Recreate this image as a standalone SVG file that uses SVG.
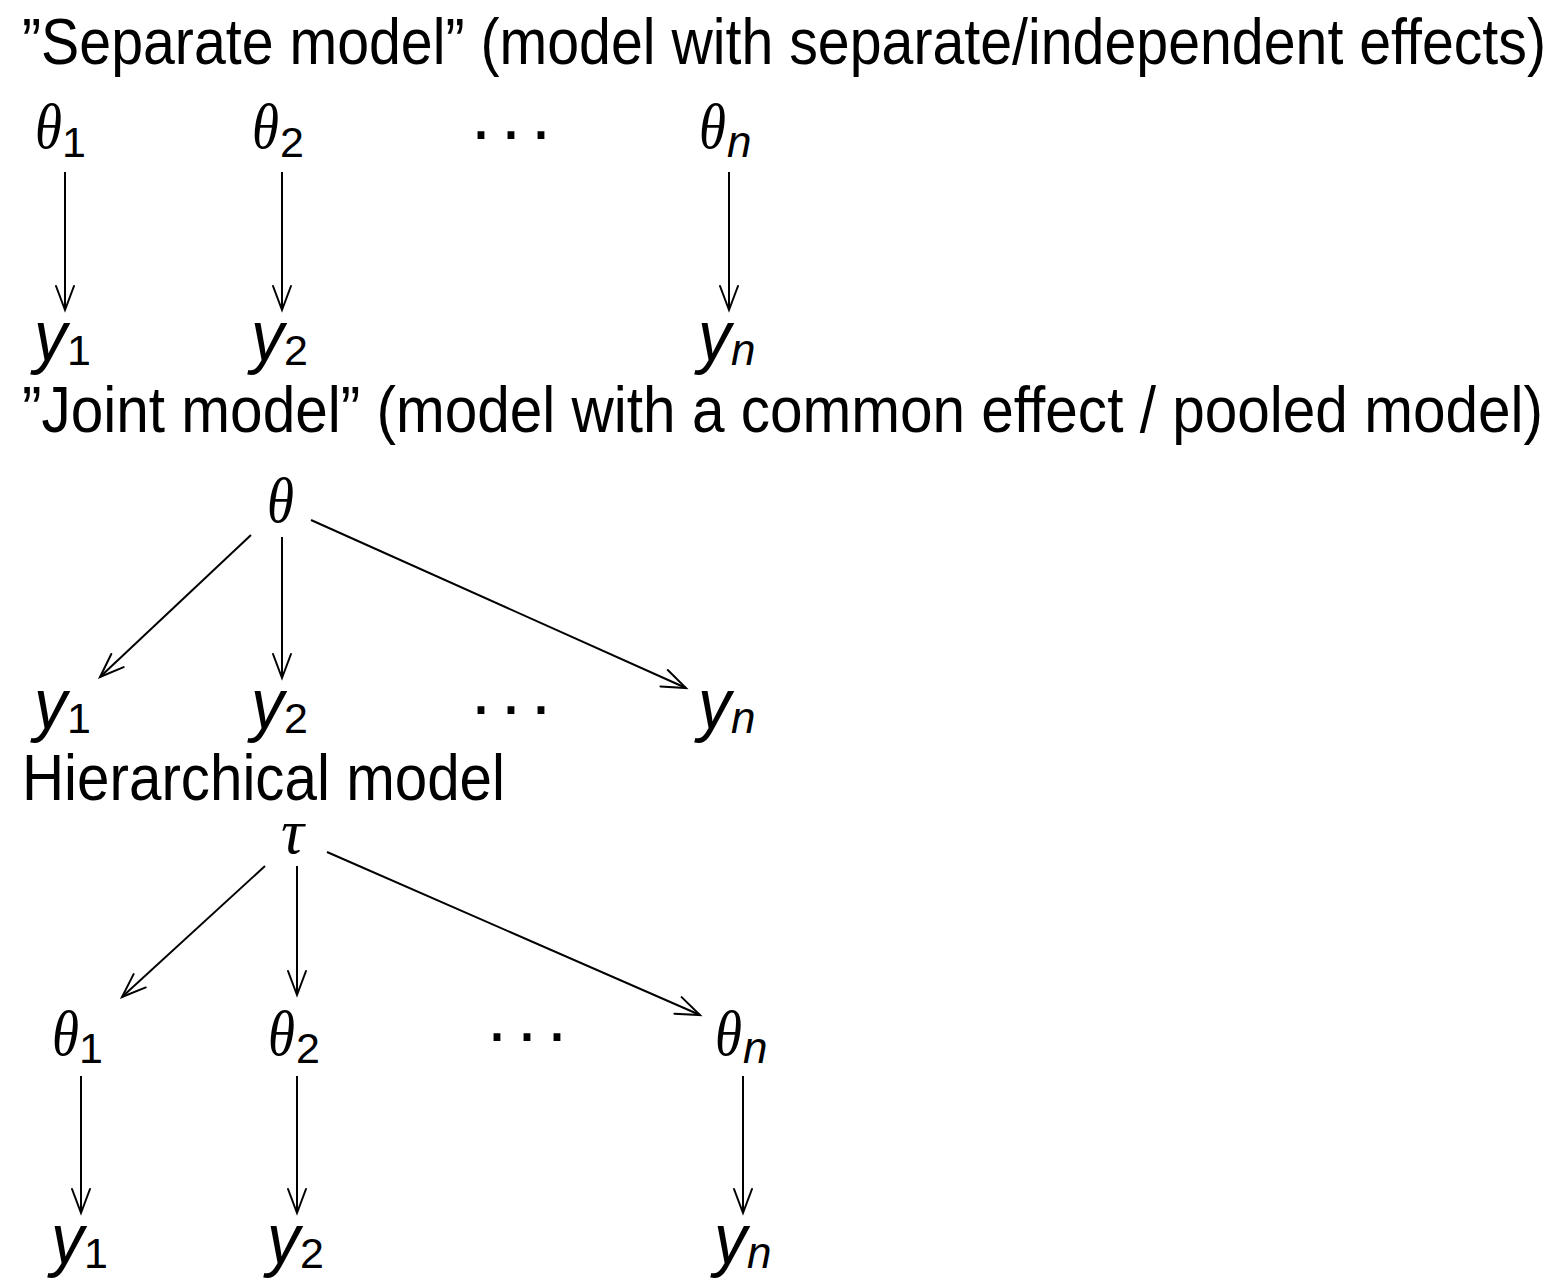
<svg xmlns="http://www.w3.org/2000/svg" width="1566" height="1288" viewBox="0 0 1566 1288">
<defs>
<marker id="arr" markerUnits="userSpaceOnUse" markerWidth="40" markerHeight="40" viewBox="-30 -20 40 40" refX="0" refY="0" orient="auto" overflow="visible">
<path d="M -24 -9 Q -8 -3 0 0 Q -8 3 -24 9" fill="none" stroke="#000" stroke-width="2" stroke-linecap="round"/>
</marker>
</defs>
<style>
.title{font-family:"Liberation Sans",Arial,sans-serif;font-size:65px;fill:#000}
.th{font-family:"Liberation Serif","Times New Roman",serif;font-style:italic;font-size:64px;fill:#000}
.tau{font-family:"Liberation Serif","Times New Roman",serif;font-style:italic;font-size:64px;fill:#000}
.yv{font-family:"Liberation Sans",Arial,sans-serif;font-style:italic;font-size:70px;fill:#000}
.sub{font-family:"Liberation Sans",Arial,sans-serif;font-size:43px;fill:#000}
.subi{font-family:"Liberation Sans",Arial,sans-serif;font-style:italic;font-size:44px;fill:#000}
.dots{font-family:"Liberation Sans",Arial,sans-serif;font-size:72px;fill:#000;letter-spacing:6px}
.edge{stroke:#000;stroke-width:2;fill:none;marker-end:url(#arr)}
</style>
<rect width="1566" height="1288" fill="#fff"/>

<g id="titles">
<text class="title" x="22" y="64" textLength="1524" lengthAdjust="spacingAndGlyphs">”Separate model” (model with separate/independent effects)</text>
<text class="title" x="22" y="432" textLength="1521" lengthAdjust="spacingAndGlyphs">”Joint model” (model with a common effect / pooled model)</text>
<text class="title" x="22" y="800" textLength="483" lengthAdjust="spacingAndGlyphs">Hierarchical model</text>
</g>

<!-- Separate model -->
<g id="s-theta1"><text class="th" x="35" y="148" textLength="27" lengthAdjust="spacingAndGlyphs">θ</text><text class="sub" x="62" y="157">1</text></g>
<g id="s-theta2"><text class="th" x="252" y="148" textLength="27" lengthAdjust="spacingAndGlyphs">θ</text><text class="sub" x="280" y="157">2</text></g>
<g id="s-dots"><text class="dots" x="469" y="155">···</text></g>
<g id="s-thetan"><text class="th" x="699" y="148" textLength="27" lengthAdjust="spacingAndGlyphs">θ</text><text class="subi" x="727" y="157">n</text></g>
<g id="s-y1"><text class="yv" x="34" y="360" textLength="33" lengthAdjust="spacingAndGlyphs">y</text><text class="sub" x="67" y="365">1</text></g>
<g id="s-y2"><text class="yv" x="251" y="360" textLength="33" lengthAdjust="spacingAndGlyphs">y</text><text class="sub" x="284" y="365">2</text></g>
<g id="s-yn"><text class="yv" x="698" y="360" textLength="33" lengthAdjust="spacingAndGlyphs">y</text><text class="subi" x="731" y="365">n</text></g>

<!-- Joint model -->
<g id="j-theta"><text class="th" x="267" y="522" textLength="27" lengthAdjust="spacingAndGlyphs">θ</text></g>
<g id="j-y1"><text class="yv" x="34" y="728" textLength="33" lengthAdjust="spacingAndGlyphs">y</text><text class="sub" x="67" y="733">1</text></g>
<g id="j-y2"><text class="yv" x="251" y="728" textLength="33" lengthAdjust="spacingAndGlyphs">y</text><text class="sub" x="284" y="733">2</text></g>
<g id="j-dots"><text class="dots" x="469" y="730">···</text></g>
<g id="j-yn"><text class="yv" x="698" y="728" textLength="33" lengthAdjust="spacingAndGlyphs">y</text><text class="subi" x="731" y="733">n</text></g>

<!-- Hierarchical model -->
<g id="h-tau"><text class="tau" x="281" y="853">τ</text></g>
<g id="h-theta1"><text class="th" x="52" y="1055" textLength="27" lengthAdjust="spacingAndGlyphs">θ</text><text class="sub" x="79" y="1063">1</text></g>
<g id="h-theta2"><text class="th" x="268" y="1055" textLength="27" lengthAdjust="spacingAndGlyphs">θ</text><text class="sub" x="296" y="1063">2</text></g>
<g id="h-dots"><text class="dots" x="485" y="1057">···</text></g>
<g id="h-thetan"><text class="th" x="715" y="1055" textLength="27" lengthAdjust="spacingAndGlyphs">θ</text><text class="subi" x="743" y="1063">n</text></g>
<g id="h-y1"><text class="yv" x="51" y="1263" textLength="33" lengthAdjust="spacingAndGlyphs">y</text><text class="sub" x="84" y="1268">1</text></g>
<g id="h-y2"><text class="yv" x="267" y="1263" textLength="33" lengthAdjust="spacingAndGlyphs">y</text><text class="sub" x="300" y="1268">2</text></g>
<g id="h-yn"><text class="yv" x="714" y="1263" textLength="33" lengthAdjust="spacingAndGlyphs">y</text><text class="subi" x="747" y="1268">n</text></g>

<g id="connectors">
<line class="edge" x1="65" y1="172" x2="65" y2="310"/>
<line class="edge" x1="282" y1="172" x2="282" y2="310"/>
<line class="edge" x1="729" y1="172" x2="729" y2="310"/>
<line class="edge" x1="251" y1="535" x2="100" y2="677"/>
<line class="edge" x1="282" y1="537" x2="282" y2="678"/>
<line class="edge" x1="311" y1="520" x2="686" y2="688"/>
<line class="edge" x1="265" y1="866" x2="122" y2="997"/>
<line class="edge" x1="297" y1="866" x2="297" y2="995"/>
<line class="edge" x1="327" y1="852" x2="700" y2="1015"/>
<line class="edge" x1="81" y1="1076" x2="81" y2="1213"/>
<line class="edge" x1="297" y1="1076" x2="297" y2="1213"/>
<line class="edge" x1="743" y1="1076" x2="743" y2="1213"/>
</g>
</svg>
